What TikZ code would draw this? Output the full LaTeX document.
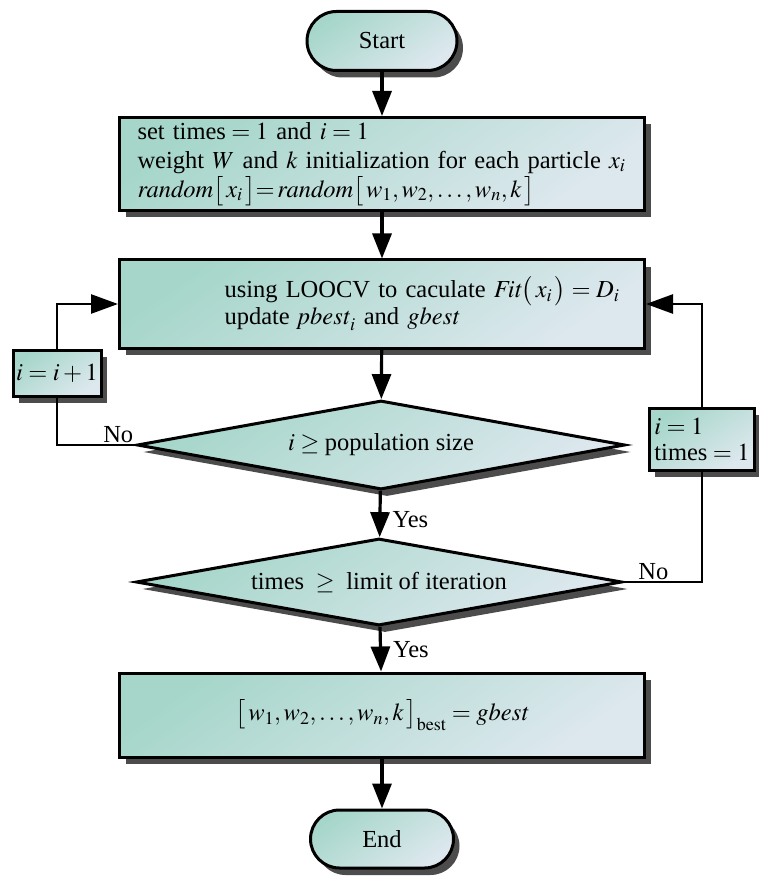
\documentclass[tikz,border=0pt]{standalone}
\usepackage{mathptmx}
\usepackage[no-math]{fontspec}
\setmainfont{Liberation Serif}
\usetikzlibrary{shapes.geometric,shapes.misc,shadows,arrows.meta}
\definecolor{tealA}{HTML}{A6D6CA}
\definecolor{tealB}{HTML}{DDE8EE}
\begin{document}
\begin{tikzpicture}[x=1pt,y=1pt,
  font=\fontsize{24.5}{26}\selectfont,
  boxbase/.style={draw=black, line width=3pt, top color=tealA, middle color=tealA!65!tealB,
    bottom color=tealB, shading angle=35,
    drop shadow={shadow xshift=6pt, shadow yshift=-7pt, fill=black!70, opacity=1},
    inner sep=0pt},
  procbox/.style={boxbase, rectangle, minimum width=525pt, minimum height=90pt},
  smallbox/.style={boxbase, rectangle, inner sep=2pt, align=left},
  termbox/.style={boxbase, rounded rectangle, minimum width=150pt, minimum height=59pt},
  decbox/.style={boxbase, diamond, aspect=5.5, minimum width=488pt, minimum height=89pt},
  arr/.style={line width=3.2pt, -{Triangle[length=25pt,width=19pt]}},
  sidearr/.style={line width=2.6pt, -{Triangle[length=27pt,width=19pt]}},
  loopline/.style={line width=2.6pt},
  lbl/.style={inner sep=1pt}
]
\useasboundingbox (0,0) rectangle (758,-882);

\node[termbox] (start) at (382,-41) {Start};
\node[procbox, text width=505pt, align=left, minimum height=93pt,
      font=\fontsize{24.5}{29}\selectfont] (init) at (382,-164)
  {\hspace*{8pt}set times${}=1$ and $i=1$\\
   \hspace*{8pt}weight $W$ and $k$ initialization for each particle $x_i$\\
   \hspace*{8pt}$\mathit{random}\bigl[\,x_i\,\bigr]{=}\,\mathit{random}\bigl[\,w_1,w_2,\ldots,w_n,k\,\bigr]$};
\node[procbox, text width=505pt, align=left, minimum height=88pt,
      font=\fontsize{24.5}{27}\selectfont] (eval) at (382,-304)
  {\hspace*{95pt}using LOOCV to caculate $\mathit{Fit}\bigl(\,x_i\,\bigr)=D_i$\\
   \hspace*{95pt}update $\mathit{pbest}_i$ and $\mathit{gbest}$};
\node[decbox] (dpop) at (381,-445) {$i\geq{}$population size};
\node[decbox, minimum width=486pt, minimum height=87pt] (diter) at (379,-582)
  {times $\;\geq\;$ limit of iteration};
\node[procbox, minimum height=84pt] (best) at (382,-715)
  {$\bigl[\,w_1,w_2,\ldots,w_n,k\,\bigr]_{\mathrm{best}}=\mathit{gbest}$};
\node[termbox, minimum width=143pt, minimum height=58pt] (end) at (382,-839) {End};

\node[smallbox, minimum width=88pt, minimum height=46pt] (inc) at (57,-373) {$i=i+1$};
\node[smallbox, minimum width=98pt, minimum height=62pt, inner xsep=5pt] (reset) at (702,-439)
  {$i=1$\\times${}=1$};

\draw[arr] (start) -- (init);
\draw[arr] (init) -- (eval);
\draw[arr] (eval) -- (dpop);
\draw[arr] (dpop) -- node[lbl, right, pos=0.62, xshift=10pt] {Yes} (diter);
\draw[arr] (diter) -- node[lbl, right, pos=0.5, xshift=10pt] {Yes} (best);
\draw[arr] (best) -- (end);

\draw[loopline] (dpop.west) -| node[lbl, pos=0.11, above] {No} (inc.south);
\draw[sidearr] (inc.north) |- (eval.west);
\draw[loopline] (diter.east) -| node[lbl, pos=0.19, above] {No} (reset.south);
\draw[sidearr] (reset.north) |- (eval.east);
\end{tikzpicture}
\end{document}
